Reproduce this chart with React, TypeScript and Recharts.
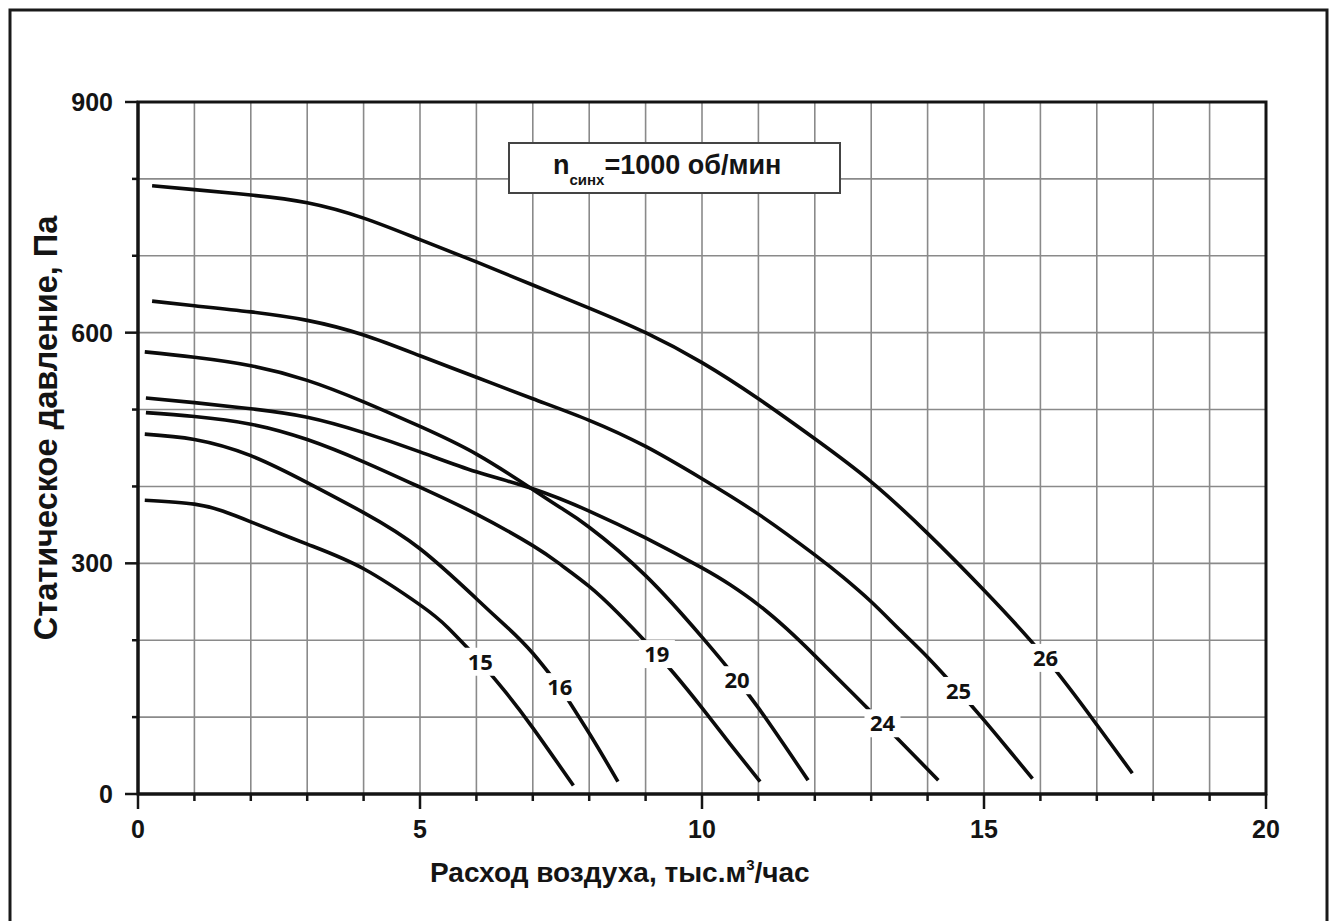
import React from 'react';
import { LineChart, Line, XAxis, YAxis, CartesianGrid, ReferenceArea } from 'recharts';

const AXIS_FONT = '"Liberation Sans", Arial, sans-serif';
const LABEL_FONT = '"Open Sans", "Liberation Sans", sans-serif';

// Curve names (fan sizes)
const curveNames = ['15', '16', '19', '20', '24', '25', '26'];

// Air flow, thousand m3/h
const x15 = [0.12, 1, 1.5, 2, 3, 4, 5, 5.5, 6, 6.5, 7, 7.72];
const x16 = [0.12, 1, 2, 3, 4, 5, 6, 6.5, 7, 7.5, 8, 8.51];
const x19 = [0.14, 1, 2, 3, 4, 5, 6, 7, 7.5, 8, 8.5, 9, 9.5, 10, 10.5, 11.03];
const x20 = [0.12, 1, 2, 3, 4, 5, 6, 7, 7.5, 8, 9, 10, 10.5, 11, 11.88];
const x24 = [0.14, 1, 2, 3, 4, 5, 6, 7, 8, 9, 10, 10.5, 11, 11.5, 12, 12.63, 13.4, 14.19];
const x25 = [0.25, 1, 2, 3, 4, 5, 6, 7, 8, 9, 10, 11, 12, 12.5, 13, 13.5, 14, 15, 15.5, 15.86];
const x26 = [0.25, 1, 2, 3, 4, 5, 6, 7, 8, 9, 10, 11, 12, 13, 14, 15, 17, 17.63];

// Static pressure, Pa
const y15 = [382, 377, 368, 354, 325, 293, 246, 216, 178, 134, 86, 11];
const y16 = [468, 461, 440, 405, 366, 319, 254, 220, 183, 137, 79, 16];
const y19 = [496, 491, 481, 461, 432, 399, 364, 323, 298, 270, 236, 198, 157, 112, 65, 16];
const y20 = [575, 568, 557, 538, 510, 478, 442, 396, 372, 347, 284, 204, 160, 112, 18];
const y24 = [515, 509, 501, 490, 470, 445, 419, 397, 368, 333, 294, 272, 246, 215, 180, 134, 77, 18];
const y25 = [641, 635, 627, 616, 597, 570, 542, 514, 486, 452, 410, 364, 311, 282, 250, 214, 178, 96, 52, 20];
const y26 = [791, 786, 779, 769, 749, 721, 692, 662, 632, 600, 561, 514, 462, 406, 339, 265, 90, 27];

// Points on each curve where its name is written
const labelX = [6.07, 7.48, 9.2, 10.62, 13.2, 14.55, 16.09];
const labelY = [172, 139, 182, 148, 92, 134, 177];

// Axis ticks
const xTicks = [0, 1, 2, 3, 4, 5, 6, 7, 8, 9, 10, 11, 12, 13, 14, 15, 16, 17, 18, 19, 20];
const yTicks = [0, 100, 200, 300, 400, 500, 600, 700, 800, 900];

const curveX = [x15, x16, x19, x20, x24, x25, x26];
const curveY = [y15, y16, y19, y20, y24, y25, y26];

type Pt = { x: number; y: number; lab?: string };

const series = curveNames.map((name, i) => {
  const pts: Pt[] = curveX[i].map((x, j) => ({ x, y: curveY[i][j] }));
  pts.push({ x: labelX[i], y: labelY[i], lab: name });
  pts.sort((a, b) => a.x - b.x);
  return { name, data: pts };
});

const INK = '#141414';

const CurveLabel = (props: any) => {
  const { value } = props;
  if (value === undefined || value === null || value === '') return null;
  const x = props.x ?? props.viewBox?.x;
  const y = props.y ?? props.viewBox?.y;
  return (
    <g>
      <rect x={x - 18} y={y - 14} width={36} height={28} fill="#ffffff" />
      <text
        x={x}
        y={y + 8}
        textAnchor="middle"
        fontFamily={LABEL_FONT}
        fontWeight={700}
        fontSize={22}
        fill="#111"
      >
        {value}
      </text>
    </g>
  );
};

const YTick = (props: any) => {
  const { x, y, payload } = props;
  const v = payload.value;
  const major = v % 300 === 0;
  return (
    <g>
      <line x1={x} x2={x - (major ? 13 : 6)} y1={y} y2={y} stroke={INK} strokeWidth={2.5} />
      {major && (
        <text
          x={x - 25}
          y={y + 9}
          textAnchor="end"
          fontFamily={AXIS_FONT}
          fontWeight={700}
          fontSize={25}
          fill={INK}
        >
          {v}
        </text>
      )}
    </g>
  );
};

const XTick = (props: any) => {
  const { x, y, payload } = props;
  const v = payload.value;
  const major = v % 5 === 0;
  return (
    <g>
      <line x1={x} x2={x} y1={y} y2={y + (major ? 15 : 7)} stroke={INK} strokeWidth={2.5} />
      {major && (
        <text
          x={x}
          y={y + 44}
          textAnchor="middle"
          fontFamily={AXIS_FONT}
          fontWeight={700}
          fontSize={25}
          fill={INK}
        >
          {v}
        </text>
      )}
    </g>
  );
};

const XTitle = (props: any) => {
  const vb = props.viewBox || { x: 138, y: 794, width: 1128, height: 30 };
  return (
    <text
      x={vb.x + 292}
      y={vb.y + 88}
      fontFamily={AXIS_FONT}
      fontWeight={700}
      fontSize={28}
      fill={INK}
    >
      Расход воздуха, тыс.м
      <tspan dy={-12} fontSize={15}>3</tspan>
      <tspan dy={12}>/час</tspan>
    </text>
  );
};

const YTitle = (props: any) => {
  const vb = props.viewBox || { x: 78, y: 102, width: 60, height: 692 };
  const cx = vb.x - 21;
  const cy = vb.y + vb.height / 2 - 20;
  return (
    <text
      x={cx}
      y={cy}
      transform={`rotate(-90, ${cx}, ${cy})`}
      textAnchor="middle"
      fontFamily={AXIS_FONT}
      fontWeight={700}
      fontSize={32.5}
      fill={INK}
    >
      Статическое давление, Па
    </text>
  );
};

export default function App() {
  return (
    <div style={{ position: 'absolute', left: 0, top: 0, width: 1330, height: 921, background: '#fff' }}>
      <LineChart
        width={1330}
        height={921}
        margin={{ top: 102, right: 64, bottom: 97, left: 78 }}
      >
        <CartesianGrid stroke="#8a8a8a" strokeWidth={1.6} />
        <XAxis
          type="number"
          dataKey="x"
          domain={[0, 20]}
          ticks={xTicks}
          interval={0}
          allowDataOverflow
          height={30}
          tickSize={0}
          tickMargin={0}
          tickLine={false}
          axisLine={{ stroke: INK, strokeWidth: 3 }}
          tick={<XTick />}
          label={<XTitle />}
        />
        <YAxis
          type="number"
          dataKey="y"
          domain={[0, 900]}
          ticks={yTicks}
          interval={0}
          allowDataOverflow
          width={60}
          tickSize={0}
          tickMargin={0}
          tickLine={false}
          axisLine={{ stroke: INK, strokeWidth: 3 }}
          tick={<YTick />}
          label={<YTitle />}
        />
        <ReferenceArea
          x1={0}
          x2={20}
          y1={0}
          y2={900}
          fill="none"
          fillOpacity={0}
          stroke={INK}
          strokeWidth={3}
          ifOverflow="visible"
        />
        {series.map((s) => (
          <Line
            key={s.name}
            data={s.data}
            dataKey="y"
            type="natural"
            stroke="#0b0b0b"
            strokeWidth={3.6}
            dot={false}
            activeDot={false}
            isAnimationActive={false}
            label={{ dataKey: 'lab', content: <CurveLabel /> }}
          />
        ))}
      </LineChart>
      <svg
        width={1330}
        height={921}
        style={{ position: 'absolute', left: 0, top: 0, pointerEvents: 'none' }}
      >
        <polyline
          points="10,925 10,10 1327,10 1327,925"
          fill="none"
          stroke="#1a1a1a"
          strokeWidth={3}
        />
        <rect x={509} y={143} width={331} height={50} fill="#ffffff" stroke="#444" strokeWidth={2} />
        <text x={553} y={174} fontFamily={AXIS_FONT} fontWeight={700} fontSize={27} fill={INK}>
          n
          <tspan dy={11} fontSize={15}>синх</tspan>
          <tspan dy={-11} fontSize={27}>=1000 об/мин</tspan>
        </text>
      </svg>
    </div>
  );
}
